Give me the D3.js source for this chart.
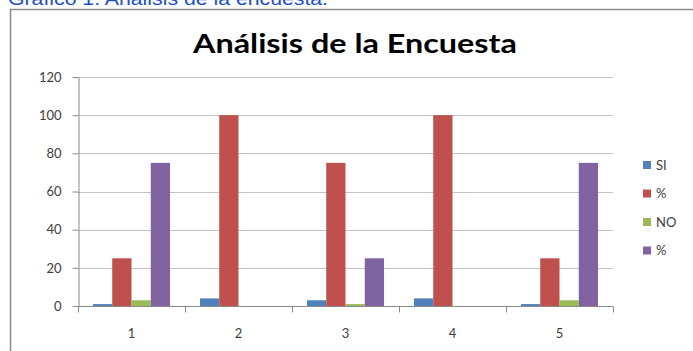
<!DOCTYPE html>
<html>
<head>
<meta charset="utf-8">
<script src="https://cdn.jsdelivr.net/npm/d3@7"></script>
<style>
html,body{margin:0;padding:0;background:#fff;overflow:hidden;}
svg{display:block;}
</style>
</head>
<body>
<svg id="c" width="693" height="351"></svg>
<script>
const categories = ["1","2","3","4","5"];
const seriesNames = ["SI","%","NO","%"];
const siValues = [1,4,3,4,1];
const siPct = [25,100,75,100,25];
const noValues = [3,0,1,0,3];
const noPct = [75,0,25,0,75];
const yTicks = [0,20,40,60,80,100,120];
const colors = ["#4f81bd","#c0504d","#9bbb59","#8064a2"];
const series = [siValues, siPct, noValues, noPct];

(function(){
const svg = d3.select("#c");
const font = "Lato, 'Open Sans', sans-serif";

// caption
svg.append("text").attr("x",8).attr("y",5)
  .attr("font-family","Arial, 'Liberation Sans', sans-serif").attr("font-size",18)
  .attr("fill","#1f4fc4").text("Gráfico 1. Análisis de la encuesta.")
  .attr("textLength",320).attr("lengthAdjust","spacingAndGlyphs");

// frame
svg.append("path").attr("d","M10.5,360 V9.5 H700")
  .attr("fill","none").attr("stroke","#8a8a8a").attr("stroke-width",1.5);

// title
svg.append("text").attr("x",355).attr("y",53).attr("text-anchor","middle")
  .attr("font-family",font).attr("font-weight","bold").attr("font-size",26)
  .attr("fill","#000").text("Análisis de la Encuesta")
  .attr("textLength",324).attr("lengthAdjust","spacingAndGlyphs");

const pLeft = 78, pRight = 613, pTop = 77, pBottom = 306;
const y = d3.scaleLinear().domain([0,120]).range([pBottom, pTop]);
const x0 = d3.scaleBand().domain(categories).range([pLeft,pRight]).paddingInner(0.28).paddingOuter(0.14);
const x1 = d3.scaleBand().domain(d3.range(4)).range([0, x0.bandwidth()]);

// gridlines
svg.append("g").selectAll("line").data(yTicks.filter(d=>d>0)).join("line")
  .attr("x1",pLeft).attr("x2",pRight)
  .attr("y1",d=>Math.round(y(d))+0.5).attr("y2",d=>Math.round(y(d))+0.5)
  .attr("stroke","#c4c4c4").attr("stroke-width",1);

// y axis
const yAxis = svg.append("g").attr("transform",`translate(${pLeft+0.5},0)`)
  .call(d3.axisLeft(y).tickValues(yTicks).tickSize(6).tickPadding(11).tickSizeOuter(0));
yAxis.select(".domain").attr("stroke","#8a8a8a");
yAxis.selectAll(".tick line").attr("stroke","#8a8a8a");
yAxis.selectAll(".tick text").attr("font-family",font).attr("font-size",13).attr("fill","#404040");

// bars
const g = svg.append("g");
categories.forEach((c,i)=>{
  series.forEach((s,j)=>{
    const v = s[i];
    if (v<=0) return;
    g.append("rect")
      .attr("x", x0(c)+x1(j)).attr("width", x1.bandwidth())
      .attr("y", y(v)).attr("height", y(0)-y(v))
      .attr("fill", colors[j]);
  });
});

// x axis
const xAxisG = svg.append("g").attr("transform",`translate(0,${pBottom+0.5})`);
xAxisG.append("line").attr("x1",pLeft).attr("x2",pRight).attr("stroke","#8a8a8a");
const bounds = categories.map(c=>x0(c)-x0.step()*0.14).concat([pRight]);
xAxisG.selectAll("line.t").data(bounds).join("line").attr("class","t")
  .attr("x1",d=>Math.round(d)+0.5).attr("x2",d=>Math.round(d)+0.5)
  .attr("y1",0).attr("y2",6).attr("stroke","#8a8a8a");
xAxisG.selectAll("text").data(categories).join("text")
  .attr("x",d=>x0(d)+x0.bandwidth()/2).attr("y",31)
  .attr("text-anchor","middle").attr("font-family",font).attr("font-size",13)
  .attr("fill","#404040").text(d=>d);

// legend
const lg = svg.append("g");
seriesNames.forEach((n,i)=>{
  const cy = 165 + i*28.5;
  lg.append("rect").attr("x",643).attr("y",cy-4).attr("width",8).attr("height",8).attr("fill",colors[i]);
  lg.append("text").attr("x",656).attr("y",cy+4.5).attr("font-family",font).attr("font-size",13)
    .attr("fill","#404040").text(n);
});
})();
</script>
</body>
</html>
